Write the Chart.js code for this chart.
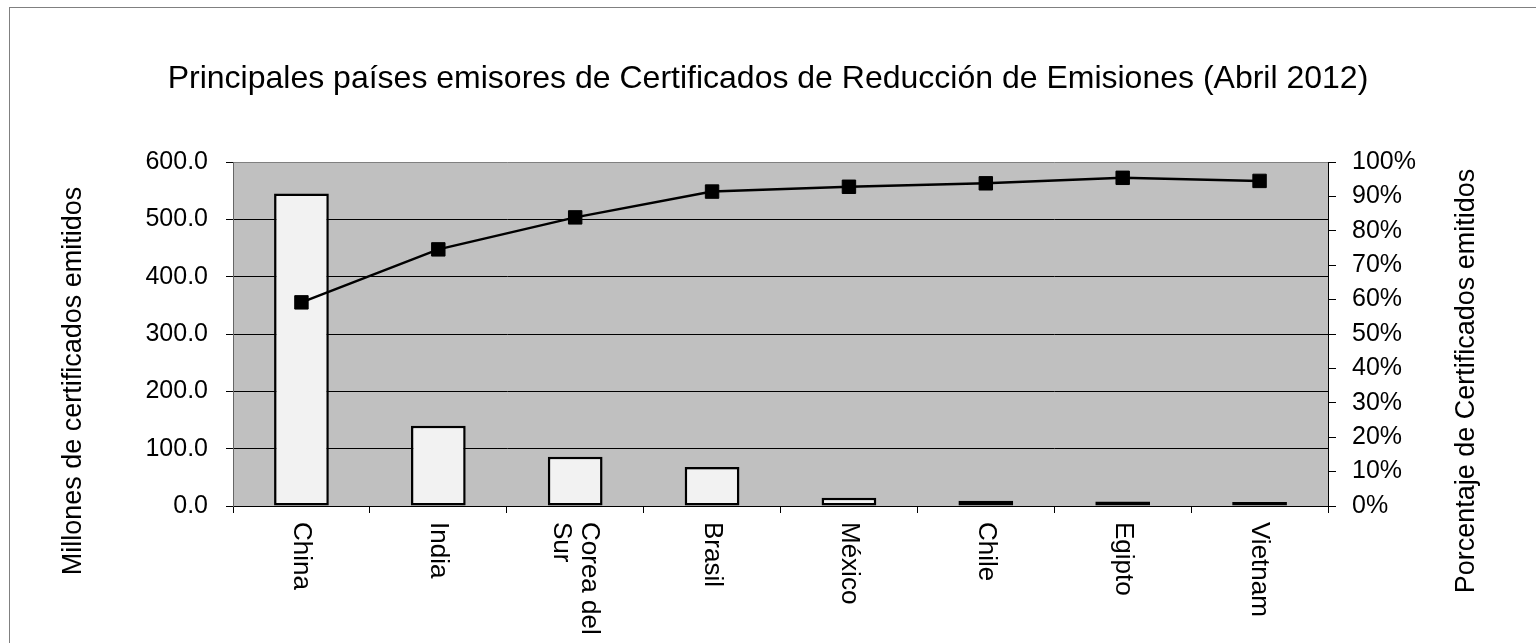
<!DOCTYPE html>
<html>
<head>
<meta charset="utf-8">
<script src="https://cdn.jsdelivr.net/npm/chart.js@4"></script>
<style>
  body { margin: 0; background: #fff; }
  canvas { display: block; }
</style>
</head>
<body>
<canvas id="grafico" width="1536" height="643"></canvas>
<script>
const paises = ["China", "India", ["Corea del", "Sur"], "Brasil", "México", "Chile", "Egipto", "Vietnam"];
const certificados = [545, 140, 86, 68, 14.5, 9.3, 8, 7];
const porcentaje = [59.2, 74.6, 83.9, 91.4, 92.8, 93.8, 95.4, 94.5];
const titulo = "Principales países emisores de Certificados de Reducción de Emisiones (Abril 2012)";
const tituloIzq = "Millones de certificados emitidos";
const tituloDer = "Porcentaje de Certificados emitidos";

const fuente = "'Liberation Sans', Arial, sans-serif";
Chart.defaults.font.family = fuente;
Chart.defaults.color = "#000";

// fondo gris del area de trazado y marco exterior
const fondo = {
  id: "fondo",
  beforeDraw(chart) {
    const { ctx, chartArea: a } = chart;
    ctx.save();
    ctx.fillStyle = "#fff";
    ctx.fillRect(0, 0, chart.width, chart.height);
    ctx.fillStyle = "#C0C0C0";
    ctx.fillRect(a.left, a.top, a.right - a.left, a.bottom - a.top);
    ctx.strokeStyle = "#808080";
    ctx.lineWidth = 1;
    ctx.strokeRect(9.5, 7.5, 1700, 800);
    ctx.restore();
  },
};

// etiquetas de categorias giradas y titulos de ejes
const textos = {
  id: "textos",
  afterDraw(chart) {
    const { ctx, chartArea: a } = chart;
    const x = chart.scales.x;
    ctx.save();
    ctx.fillStyle = "#000";
    ctx.font = "26px " + fuente;
    ctx.textAlign = "left";
    ctx.textBaseline = "middle";
    paises.forEach((p, i) => {
      const lineas = Array.isArray(p) ? p : [p];
      const cx = x.getPixelForTick(i);
      ctx.save();
      ctx.translate(cx, a.bottom + 16);
      ctx.rotate(Math.PI / 2);
      lineas.forEach((l, j) => {
        ctx.fillText(l, 0, (j - (lineas.length - 1) / 2) * 28);
      });
      ctx.restore();
    });

    ctx.font = "27px " + fuente;
    ctx.textAlign = "center";
    [[74, tituloIzq], [1467, tituloDer]].forEach(([tx, t]) => {
      ctx.save();
      ctx.translate(tx, 381);
      ctx.rotate(-Math.PI / 2);
      ctx.fillText(t, 0, 0);
      ctx.restore();
    });
    ctx.restore();
  },
};

new Chart(document.getElementById("grafico"), {
  type: "bar",
  data: {
    labels: paises,
    datasets: [
      {
        type: "line",
        data: porcentaje,
        yAxisID: "y1",
        borderColor: "#000",
        borderWidth: 2.5,
        pointStyle: "rect",
        pointRadius: 9.5,
        pointBackgroundColor: "#000",
        pointBorderColor: "#000",
        pointBorderWidth: 1,
        tension: 0,
        order: 0,
      },
      {
        data: certificados,
        yAxisID: "y",
        backgroundColor: "#F2F2F2",
        borderColor: "#000",
        borderWidth: 2.5,
        borderSkipped: false,
        barPercentage: 0.4,
        categoryPercentage: 1,
        order: 1,
      },
    ],
  },
  options: {
    responsive: false,
    animation: false,
    devicePixelRatio: 1,
    layout: { padding: 0 },
    plugins: {
      legend: { display: false },
      tooltip: { enabled: false },
      title: {
        display: true,
        text: titulo,
        color: "#000",
        font: { size: 32, weight: "normal" },
        padding: { top: 60, bottom: 63.6 },
      },
    },
    scales: {
      x: {
        grid: {
          offset: true,
          drawOnChartArea: false,
          tickLength: 7,
          tickColor: "#000",
        },
        border: { color: "#000" },
        ticks: { display: false },
        afterFit(s) { s.height = 137; },
      },
      y: {
        position: "left",
        min: 0,
        max: 600,
        ticks: {
          stepSize: 100,
          padding: 18,
          font: { size: 25 },
          callback: (v) => v.toFixed(1),
        },
        grid: {
          color: (c) => (c.tick && c.tick.value === 600 ? "#808080" : "#000"),
          tickColor: "#000",
          tickLength: 7,
        },
        border: { color: "#666" },
        afterFit(s) { s.width = 233; },
      },
      y1: {
        position: "right",
        min: 0,
        max: 100,
        ticks: {
          stepSize: 10,
          padding: 16,
          font: { size: 25 },
          callback: (v) => v + "%",
        },
        grid: { drawOnChartArea: false, tickColor: "#000", tickLength: 8 },
        border: { color: "#000" },
        afterFit(s) { s.width = 208; },
      },
    },
  },
  plugins: [fondo, textos],
});
</script>
</body>
</html>
